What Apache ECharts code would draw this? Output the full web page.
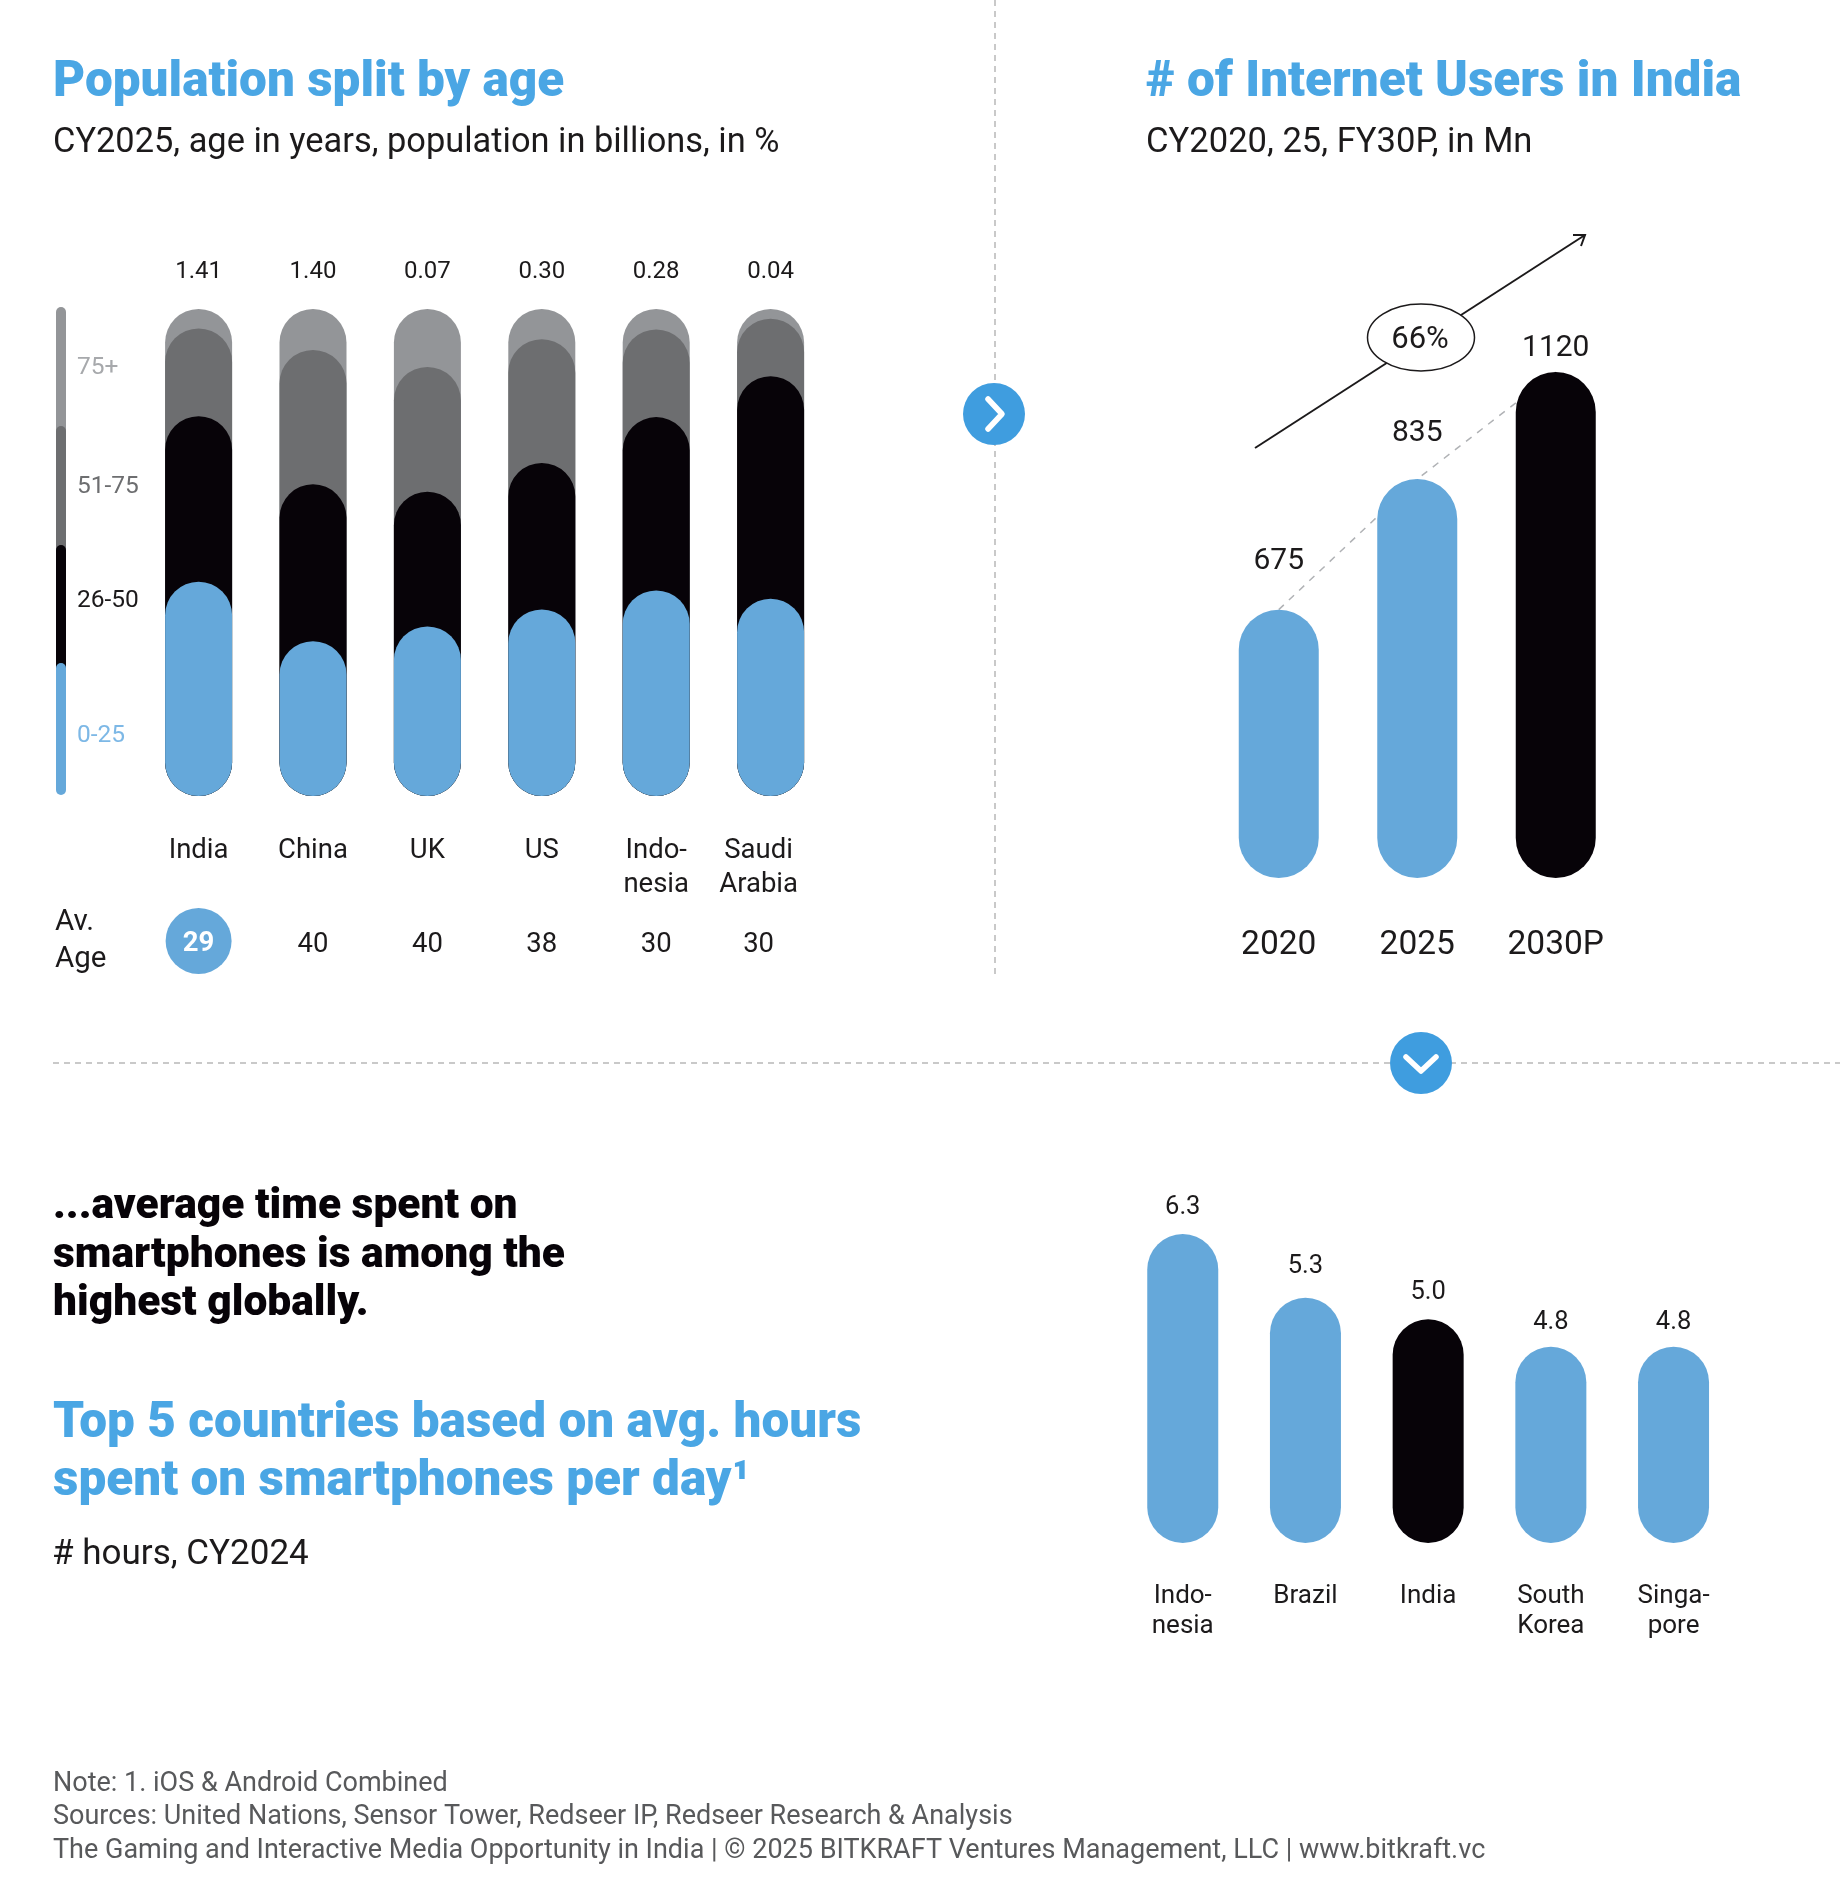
<!DOCTYPE html>
<html><head><meta charset="utf-8">
<style>html,body{margin:0;padding:0;background:#fff}#c{width:1840px;height:1881px}</style>
<script src="https://cdn.jsdelivr.net/npm/echarts@6/dist/echarts.min.js"></script>
</head><body><div id="c"></div>
<script>
// Chart 1: population split (% segments, bottom to top)
const ageCountries = ['India','China','UK','US','Indo-\nnesia','Saudi\nArabia'];
const popBillions = ['1.41','1.40','0.07','0.30','0.28','0.04'];
const avgAge = ['29','40','40','38','30','30'];
const age0to25 = [44,31.8,34.8,38.3,42.2,40.5];
const age26to50 = [34,32.2,27.7,30.1,35.6,45.7];
const age51to75 = [18,27.6,25.6,25.4,18,11.8];
const age75plus = [4,8.4,11.9,6.2,4.2,2];
// Chart 2: printed values, and the bar lengths as drawn in the picture (not to scale with the printed values)
const userYears = ['2020','2025','2030P'];
const userValues = [675,835,1120];
const userDrawn = [594,883,1120];
// Chart 3
const phoneCountries = ['Indo-\nnesia','Brazil','India','South\nKorea','Singa-\npore'];
const phoneHours = ['6.3','5.3','5.0','4.8','4.8'];
const phoneDrawn = [6.3,5.0,4.56,4.0,4.0];

const BLUE='#65A8DA', BLACK='#070308', DARK='#6D6E70', LIGHT='#939598', TITLE='#4AA6E4', INK='#1C1A1B';
const FONT='Roboto';
const cum=(...arrs)=>arrs[0].map((_,i)=>arrs.reduce((s,a)=>s+a[i],0));

function overlapBar(name,data,color){
  return {name,type:'bar',xAxisIndex:0,yAxisIndex:0,data,barWidth:67,barGap:'-100%',
    itemStyle:{color,borderRadius:34},silent:true,animation:false};
}
const gapsUsers=[33,31,9], gapsPhones=[13,18,14,11,11];
const colorsUsers=[BLUE,BLUE,BLACK], colorsPhones=[BLUE,BLUE,BLACK,BLUE,BLUE];

const txt=(x,y,text,size,weight,fill,align)=>({type:'text',x,y,z:20,style:{text,font:`${weight} ${size}px ${FONT}`,fill,align:align||'left',verticalAlign:'middle'}});
const graphic=[
  txt(53,84,'Population split by age',49.5,900,TITLE),
  txt(53,143,'CY2025, age in years, population in billions, in %',34.4,400,INK),
  txt(1146,84,'# of Internet Users in India',49.5,900,TITLE),
  txt(1146,143,'CY2020, 25, FY30P, in Mn',34.6,400,INK),
  // legend strip
  {type:'rect',z:5,shape:{x:56,y:307,width:10,height:140,r:5},style:{fill:LIGHT}},
  {type:'rect',z:6,shape:{x:56,y:426,width:10,height:140,r:5},style:{fill:DARK}},
  {type:'rect',z:7,shape:{x:56,y:545,width:10,height:140,r:5},style:{fill:BLACK}},
  {type:'rect',z:8,shape:{x:56,y:663,width:10,height:132,r:5},style:{fill:BLUE}},
  txt(77,367.5,'75+',24.5,400,'#A7A9AC'),
  txt(77,486.5,'51-75',24.5,400,DARK),
  txt(77,601,'26-50',24.5,400,INK),
  txt(77,736,'0-25',24.5,400,'#7DB8E6'),
  txt(55,922.5,'Av.',29.5,400,INK),
  txt(55,960,'Age',29.5,400,INK),
  {type:'circle',z:0,shape:{cx:198.6,cy:941,r:33},style:{fill:BLUE}},
  // dividers
  {type:'line',z:1,shape:{x1:995,y1:0,x2:995,y2:977},style:{stroke:'#C9C9C9',lineWidth:2,lineDash:[6,5]}},
  {type:'line',z:1,shape:{x1:53,y1:1063,x2:1840,y2:1063},style:{stroke:'#C9C9C9',lineWidth:2,lineDash:[6,5]}},
  {type:'circle',z:10,shape:{cx:994,cy:414,r:31},style:{fill:'#3F9DDF'}},
  {type:'polyline',z:11,shape:{points:[[988,399],[1002,414],[988,429]]},style:{stroke:'#fff',lineWidth:5.5,fill:null,lineCap:'round',lineJoin:'round'}},
  {type:'circle',z:10,shape:{cx:1421,cy:1063,r:31},style:{fill:'#3F9DDF'}},
  {type:'polyline',z:11,shape:{points:[[1406,1057],[1421,1071],[1436,1057]]},style:{stroke:'#fff',lineWidth:5.5,fill:null,lineCap:'round',lineJoin:'round'}},
  // CAGR arrow
  {type:'line',z:10,shape:{x1:1255,y1:448,x2:1585,y2:235},style:{stroke:INK,lineWidth:2}},
  {type:'polyline',z:10,shape:{points:[[1573,235],[1585,235],[1581,246]]},style:{stroke:INK,lineWidth:2,fill:null}},
  {type:'ellipse',z:11,shape:{cx:1421,cy:337.5,rx:53.5,ry:33.5},style:{fill:'#fff',stroke:INK,lineWidth:1.5}},
  txt(1420,340,'66%',31,400,INK,'center'),
  // lower left text
  txt(53,1207,'...average time spent on',42.5,900,BLACK),
  txt(53,1256,'smartphones is among the',42.5,900,BLACK),
  txt(53,1304,'highest globally.',42.5,900,BLACK),
  txt(53,1425,'Top 5 countries based on avg. hours',49.5,900,TITLE),
  txt(53,1483,'spent on smartphones per day\u00B9',49.5,900,TITLE),
  txt(52,1555,'# hours, CY2024',35,400,INK),
  // footer
  txt(53,1784,'Note: 1. iOS & Android Combined',27,400,'#58595B'),
  txt(53,1817,'Sources: United Nations, Sensor Tower, Redseer IP, Redseer Research & Analysis',27,400,'#58595B'),
  txt(53,1851,'The Gaming and Interactive Media Opportunity in India | \u00A9 2025 BITKRAFT Ventures Management, LLC | www.bitkraft.vc',27,400,'#58595B'),
];
const hiddenY=(g,max)=>({type:'value',gridIndex:g,min:0,max,show:false,splitLine:{show:false}});
const catX=(g,data,extra)=>Object.assign({type:'category',gridIndex:g,data,axisLine:{show:false},axisTick:{show:false}},extra);
const shiftSaudi=(v,i)=>i===5?v.split('\n').map(s=>`{s|${s}}`).join('\n'):`{n|${v.replace(/\n/g,'}\n{n|')}}`;

const option={
  backgroundColor:'#fff',animation:false,
  textStyle:{fontFamily:FONT},
  grid:[
    {left:141.4,top:309,width:686.4,height:487},
    {left:1209.5,top:372,width:415.5,height:506},
    {left:1121.4,top:1234,width:613.5,height:309},
  ],
  xAxis:[
    catX(0,ageCountries,{position:'bottom',axisLabel:{interval:0,margin:38,formatter:shiftSaudi,
      rich:{n:{fontFamily:FONT,fontSize:27.5,lineHeight:34,color:INK},s:{fontFamily:FONT,fontSize:27.5,lineHeight:34,color:INK,padding:[0,24,0,0]}}}}),
    catX(0,popBillions,{position:'top',axisLabel:{interval:0,margin:25,fontFamily:FONT,fontSize:24,color:INK}}),
    catX(0,avgAge,{position:'bottom',z:10,axisLabel:{interval:0,margin:116,
      formatter:(v,i)=>i===0?`{c|${v}}`:(i===5?`{s|${v}}`:`{n|${v}}`),
      rich:{n:{fontFamily:FONT,fontSize:27.5,lineHeight:66,height:66,color:INK},
            s:{fontFamily:FONT,fontSize:27.5,lineHeight:66,height:66,color:INK,padding:[0,24,0,0]},
            c:{fontFamily:FONT,fontSize:27.5,fontWeight:700,color:'#fff',lineHeight:64,height:64}}}}),
    catX(1,userYears,{axisLabel:{interval:0,margin:47.5,fontFamily:FONT,fontSize:33.5,lineHeight:40,color:INK}}),
    catX(2,phoneCountries,{axisLabel:{interval:0,margin:38,fontFamily:FONT,fontSize:26,lineHeight:30.6,color:INK}}),
  ],
  yAxis:[hiddenY(0,100),hiddenY(1,1120),hiddenY(2,6.3)],
  series:[
    overlapBar('75+',cum(age0to25,age26to50,age51to75,age75plus),LIGHT),
    overlapBar('51-75',cum(age0to25,age26to50,age51to75),DARK),
    overlapBar('26-50',cum(age0to25,age26to50),BLACK),
    overlapBar('0-25',age0to25,BLUE),
    {type:'line',xAxisIndex:3,yAxisIndex:1,data:userDrawn,z:1,symbol:'none',silent:true,
      lineStyle:{color:'#B0B2B5',width:1.5,type:[7,7]}},
    {type:'bar',xAxisIndex:3,yAxisIndex:1,z:2,barWidth:80,silent:true,
      data:userDrawn.map((v,i)=>({value:v,itemStyle:{color:colorsUsers[i],borderRadius:40},
        label:{show:true,position:'top',distance:gapsUsers[i],formatter:String(userValues[i]),fontFamily:FONT,fontSize:30,color:INK}}))},
    {type:'bar',xAxisIndex:4,yAxisIndex:2,z:2,barWidth:71,silent:true,
      data:phoneDrawn.map((v,i)=>({value:v,itemStyle:{color:colorsPhones[i],borderRadius:35.5},
        label:{show:true,position:'top',distance:gapsPhones[i],formatter:phoneHours[i],fontFamily:FONT,fontSize:25.5,color:INK}}))},
  ],
  graphic,
};
const chart=echarts.init(document.getElementById('c'),null,{renderer:'canvas',width:1840,height:1881});
chart.setOption(option);
</script></body></html>
